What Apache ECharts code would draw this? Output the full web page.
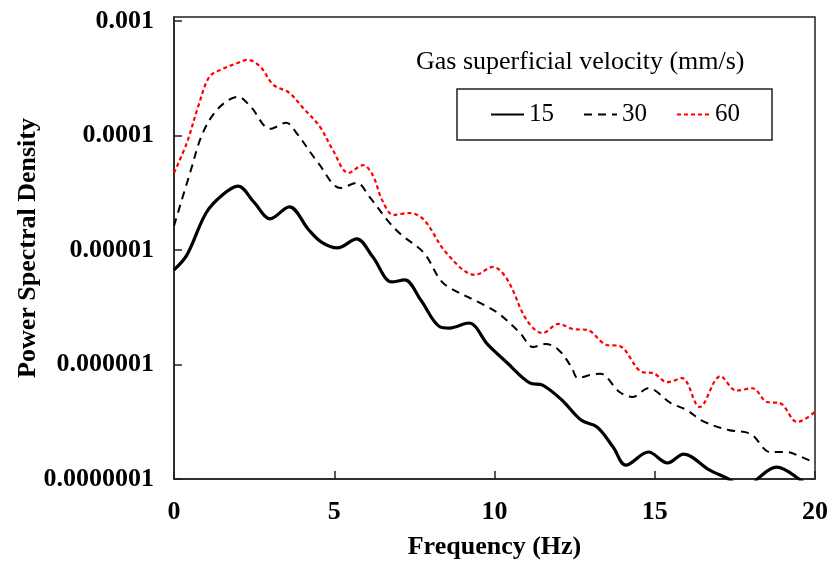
<!DOCTYPE html>
<html>
<head>
<meta charset="utf-8">
<script src="https://cdn.jsdelivr.net/npm/echarts@6/dist/echarts.min.js"></script>
<style>html,body{margin:0;padding:0;background:#fff;}#chart{width:831px;height:561px;}</style>
</head>
<body>
<div id="chart"></div>
<script>
// ---- data ----
const seriesNames = ['15', '30', '60'];
const legendTitle = 'Gas superficial velocity (mm/s)';
const xTicks = [0, 5, 10, 15, 20];
const yTicks = [0.0000001, 0.000001, 0.00001, 0.0001, 0.001];

const freq15 = [0, 0.4, 1.0, 1.5, 2.0, 2.5, 3.0, 3.6, 4.2, 4.6, 5.1, 5.7, 6.2, 6.8, 7.2, 7.7, 8.3, 8.6, 9.2, 9.8, 10.4, 11.1, 11.5, 12.1, 12.7, 13.2, 13.7, 14.1, 14.8, 15.4, 15.9, 16.7, 17.3, 17.9, 18.2, 18.8, 19.5, 20];
const psd15 = [6.7e-6, 9.0e-6, 2.1e-5, 3.0e-5, 3.6e-5, 2.6e-5, 1.87e-5, 2.38e-5, 1.5e-5, 1.17e-5, 1.04e-5, 1.25e-5, 8.7e-6, 5.25e-6, 5.47e-6, 3.65e-6, 2.13e-6, 2.08e-6, 2.3e-6, 1.48e-6, 1.03e-6, 6.9e-7, 6.6e-7, 4.9e-7, 3.27e-7, 2.84e-7, 1.9e-7, 1.32e-7, 1.72e-7, 1.38e-7, 1.65e-7, 1.2e-7, 1.0e-7, 8.0e-8, 1.0e-7, 1.27e-7, 1.0e-7, 7.5e-8];

const freq30 = [0, 0.5, 0.9, 1.4, 2.0, 2.4, 3.0, 3.5, 3.8, 4.5, 5.2, 5.7, 6.1, 6.7, 7.1, 7.8, 8.3, 8.6, 9.5, 10.1, 10.8, 11.2, 11.6, 12.0, 12.4, 12.6, 13.0, 13.3, 13.9, 14.3, 14.8, 15.5, 16.0, 16.5, 17.3, 18.0, 18.6, 19.1, 19.5, 20];
const psd30 = [1.62e-5, 4.7e-5, 1.05e-4, 1.74e-4, 2.17e-4, 1.77e-4, 1.14e-4, 1.29e-4, 1.07e-4, 5.75e-5, 3.47e-5, 3.85e-5, 2.9e-5, 1.76e-5, 1.35e-5, 9.4e-6, 5.5e-6, 4.66e-6, 3.5e-6, 2.82e-6, 1.88e-6, 1.42e-6, 1.51e-6, 1.34e-6, 9.5e-7, 7.6e-7, 8.1e-7, 8.3e-7, 5.75e-7, 5.2e-7, 6.2e-7, 4.6e-7, 4.0e-7, 3.2e-7, 2.68e-7, 2.47e-7, 1.72e-7, 1.72e-7, 1.59e-7, 1.38e-7];

const freq60 = [0, 0.4, 0.75, 1.1, 1.45, 2.0, 2.3, 2.7, 3.1, 3.6, 4.0, 4.55, 4.95, 5.45, 5.9, 6.2, 6.5, 6.85, 7.35, 7.8, 8.5, 9.4, 9.95, 10.4, 11.0, 11.5, 12.0, 12.45, 12.9, 13.5, 13.9, 14.6, 14.95, 15.4, 15.85, 16.4, 17.05, 17.55, 18.05, 18.5, 18.9, 19.45, 20];
const psd60 = [4.7e-5, 8.6e-5, 1.77e-4, 3.24e-4, 3.73e-4, 4.3e-4, 4.56e-4, 3.96e-4, 2.76e-4, 2.35e-4, 1.77e-4, 1.19e-4, 7.5e-5, 4.7e-5, 5.5e-5, 4.5e-5, 2.7e-5, 2.02e-5, 2.1e-5, 1.83e-5, 9.4e-6, 6.05e-6, 7.1e-6, 5.5e-6, 2.45e-6, 1.88e-6, 2.26e-6, 2.04e-6, 2.0e-6, 1.48e-6, 1.45e-6, 8.6e-7, 8.4e-7, 7.0e-7, 7.6e-7, 4.25e-7, 7.9e-7, 5.9e-7, 6.2e-7, 4.7e-7, 4.6e-7, 3.15e-7, 3.85e-7];

// ---- chart ----
const pairs = (xs, ys) => xs.map((x, i) => [x, ys[i]]);
const SERIF = '"Liberation Serif", "Times New Roman", serif';
const chart = echarts.init(document.getElementById('chart'), null, {renderer: 'canvas'});

function yLabel(v) {
  for (const t of yTicks) {
    if (Math.abs(v - t) / t < 1e-6) {
      const d = Math.round(-Math.log10(t));
      return t.toFixed(d);
    }
  }
  return '';
}

chart.setOption({
  animation: false,
  backgroundColor: '#fff',
  title: {
    text: legendTitle,
    left: 411, top: 44,
    textStyle: {fontFamily: SERIF, fontSize: 26, fontWeight: 'normal', color: '#000'}
  },
  legend: {
    left: 457, top: 89,
    padding: [13, 32, 13, 33],
    borderColor: '#222', borderWidth: 1.5,
    itemWidth: 33, itemHeight: 14, itemGap: 29,
    data: seriesNames,
    itemStyle: {opacity: 0},
    textStyle: {fontFamily: SERIF, fontSize: 25, color: '#000'}
  },
  grid: {left: 174, right: 16, top: 17, bottom: 82, show: true, borderColor: '#222', borderWidth: 1.5,
         containLabel: false, outerBoundsMode: 'none'},
  xAxis: {
    type: 'value', min: xTicks[0], max: xTicks[xTicks.length - 1], interval: 5,
    name: 'Frequency (Hz)', nameLocation: 'middle', nameGap: 55, nameMoveOverlap: false,
    nameTextStyle: {fontFamily: SERIF, fontSize: 26, fontWeight: 'bold', color: '#000'},
    axisLine: {lineStyle: {color: '#222', width: 1.5}},
    axisTick: {inside: true, length: 8, lineStyle: {color: '#222', width: 1.5}},
    axisLabel: {margin: 20, fontFamily: SERIF, fontSize: 26, fontWeight: 'bold', color: '#000'},
    splitLine: {show: false}
  },
  yAxis: {
    type: 'log', logBase: 10, min: yTicks[0], max: 1.08e-3,
    name: 'Power Spectral Density', nameLocation: 'middle', nameGap: 133, nameRotate: 90, nameMoveOverlap: false,
    nameTextStyle: {fontFamily: SERIF, fontSize: 26, fontWeight: 'bold', color: '#000'},
    axisLine: {lineStyle: {color: '#222', width: 1.5}},
    axisTick: {inside: true, length: 8, lineStyle: {color: '#222', width: 1.5}},
    axisLabel: {margin: 20, fontFamily: SERIF, fontSize: 26, fontWeight: 'bold', color: '#000', formatter: yLabel, showMaxLabel: false},
    splitLine: {show: false},
    minorTick: {show: false}
  },
  series: [
    {name: seriesNames[0], type: 'line', data: pairs(freq15, psd15), smooth: 0.35, symbol: 'none',
     lineStyle: {color: '#000', width: 3.2, type: 'solid'}, itemStyle: {color: '#000'}},
    {name: seriesNames[1], type: 'line', data: pairs(freq30, psd30), smooth: 0.35, symbol: 'none',
     lineStyle: {color: '#000', width: 2, type: [8, 6]}, itemStyle: {color: '#000'}},
    {name: seriesNames[2], type: 'line', data: pairs(freq60, psd60), smooth: 0.35, symbol: 'none',
     lineStyle: {color: '#ff0000', width: 2.2, type: [4, 3]}, itemStyle: {color: '#ff0000'}}
  ]
});
</script>
</body>
</html>
